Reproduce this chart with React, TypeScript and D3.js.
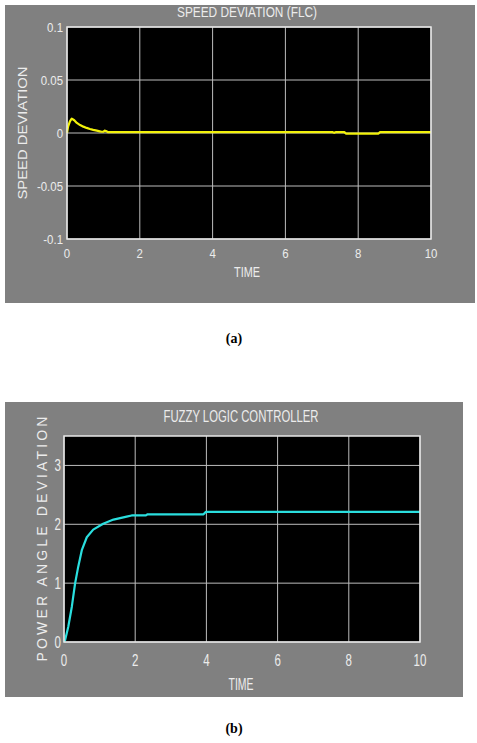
import React from "react";
import * as d3 from "d3";

// ---- Data ----
const xTicks = [0, 2, 4, 6, 8, 10];

const speedTicksY = [-0.1, -0.05, 0, 0.05, 0.1];
const speedTickLabels = ["-0.1", "-0.05", "0", "0.05", "0.1"];
const speedTime = [0, 0.03, 0.08, 0.13, 0.2, 0.27, 0.36, 0.45, 0.54, 0.63, 0.72, 0.82, 0.9, 0.95, 1.0, 1.03, 1.07, 1.12, 1.2, 2, 4, 6, 7.3, 7.34, 7.38, 7.62, 7.66, 8.56, 8.6, 10];
const speedValues = [0, 0.006, 0.011, 0.0135, 0.012, 0.0095, 0.0075, 0.006, 0.0048, 0.0038, 0.003, 0.0022, 0.0016, 0.0012, 0.0012, 0.0022, 0.0018, 0.0009, 0.0008, 0.0008, 0.0008, 0.0008, 0.0008, 0.0002, 0.0008, 0.0008, -0.0005, -0.0005, 0.0008, 0.0008];

const angleTicksY = [0, 1, 2, 3];
const angleTime = [0, 0.03, 0.12, 0.22, 0.31, 0.4, 0.5, 0.64, 0.82, 1.1, 1.39, 1.76, 1.9, 2.2, 2.3, 2.35, 3.92, 3.98, 10];
const angleValues = [0, 0.03, 0.26, 0.6, 0.99, 1.28, 1.56, 1.78, 1.91, 2.01, 2.08, 2.13, 2.15, 2.15, 2.15, 2.17, 2.17, 2.21, 2.21];

const FONT = "'Liberation Sans', Arial, sans-serif";
const PANEL = "#808080";
const GRID = "#bdbdbd";
const BORDER = "#e8e8e8";
const TXT = "#ececec";

type PanelProps = {
  panel: { x: number; y: number; w: number; h: number };
  plot: { x0: number; x1: number; y0: number; y1: number };
  yDomain: [number, number];
  yTicks: number[];
  yTickLabels: string[];
  t: number[];
  v: number[];
  color: string;
  title: string;
  titleY: number;
  titleX: number;
  titleLen: number;
  titleSize: number;
  yLabel: string;
  yLabelX: number;
  yLabelY: number;
  yLabelLen: number;
  yLabelSize: number;
  yLabelAdjust: string;
  xLabelY: number;
  xLabelX: number;
  xLabelLen: number;
  xLabelSize: number;
  tickSize: number;
  tickScaleX: number;
  xTickBaseline: number;
  yTickRight: number;
  yTickShift: number;
};

function Panel(p: PanelProps) {
  const x = d3.scaleLinear().domain([0, 10]).range([p.plot.x0, p.plot.x1]);
  const y = d3.scaleLinear().domain(p.yDomain).range([p.plot.y1, p.plot.y0]);
  const line = d3
    .line<number>()
    .x((_, i) => x(p.t[i]))
    .y((d) => y(d));
  return (
    <g>
      <rect x={p.panel.x} y={p.panel.y} width={p.panel.w} height={p.panel.h} fill={PANEL} />
      <rect x={p.plot.x0} y={p.plot.y0} width={p.plot.x1 - p.plot.x0} height={p.plot.y1 - p.plot.y0} fill="#000" />
      {xTicks.map((d) => (
        <line key={"gx" + d} x1={x(d)} x2={x(d)} y1={p.plot.y0} y2={p.plot.y1} stroke={GRID} strokeWidth={1} />
      ))}
      {p.yTicks.map((d) => (
        <line key={"gy" + d} x1={p.plot.x0} x2={p.plot.x1} y1={y(d)} y2={y(d)} stroke={GRID} strokeWidth={1} />
      ))}
      <path d={line(p.v) || ""} fill="none" stroke={p.color} strokeWidth={2.2} strokeLinejoin="round" />
      <rect x={p.plot.x0} y={p.plot.y0} width={p.plot.x1 - p.plot.x0} height={p.plot.y1 - p.plot.y0} fill="none" stroke={BORDER} strokeWidth={1.5} />
      {xTicks.map((d) => (
        <text
          key={"tx" + d}
          transform={`translate(${x(d)},${p.xTickBaseline}) scale(${p.tickScaleX},1)`}
          textAnchor="middle"
          fontFamily={FONT}
          fontSize={p.tickSize}
          fill={TXT}
        >
          {d}
        </text>
      ))}
      {p.yTicks.map((d, i) => (
        <text
          key={"ty" + d}
          transform={`translate(${p.yTickRight},${y(d) + p.yTickShift}) scale(${p.tickScaleX},1)`}
          textAnchor="end"
          fontFamily={FONT}
          fontSize={p.tickSize}
          fill={TXT}
        >
          {p.yTickLabels[i]}
        </text>
      ))}
      <text
        x={p.titleX}
        y={p.titleY}
        textAnchor="middle"
        fontFamily={FONT}
        fontSize={p.titleSize}
        fill={TXT}
        textLength={p.titleLen}
        lengthAdjust="spacingAndGlyphs"
      >
        {p.title}
      </text>
      <text
        x={p.xLabelX}
        y={p.xLabelY}
        textAnchor="middle"
        fontFamily={FONT}
        fontSize={p.xLabelSize}
        fill={TXT}
        textLength={p.xLabelLen}
        lengthAdjust="spacingAndGlyphs"
      >
        TIME
      </text>
      <text
        transform={`translate(${p.yLabelX},${p.yLabelY}) rotate(-90)`}
        textAnchor="middle"
        fontFamily={FONT}
        fontSize={p.yLabelSize}
        fill={TXT}
        textLength={p.yLabelLen}
        lengthAdjust={p.yLabelAdjust}
      >
        {p.yLabel}
      </text>
    </g>
  );
}

export default function App() {
  return (
    <svg
      width={477}
      height={743}
      style={{ position: "absolute", left: 0, top: 0, background: "#fff" }}
    >
      <Panel
        panel={{ x: 5, y: 5, w: 470, h: 298 }}
        plot={{ x0: 67, x1: 431, y0: 27, y1: 239 }}
        yDomain={[-0.1, 0.1]}
        yTicks={speedTicksY}
        yTickLabels={speedTickLabels}
        t={speedTime}
        v={speedValues}
        color="#f2f20a"
        title="SPEED DEVIATION (FLC)"
        titleX={247}
        titleY={17}
        titleLen={140}
        titleSize={14}
        yLabel="SPEED DEVIATION"
        yLabelX={27}
        yLabelY={133}
        yLabelLen={133}
        yLabelSize={13.5}
        yLabelAdjust="spacingAndGlyphs"
        xLabelX={247}
        xLabelY={277}
        xLabelLen={26}
        xLabelSize={14.5}
        tickSize={13}
        tickScaleX={0.88}
        xTickBaseline={258}
        yTickRight={63}
        yTickShift={4.5}
      />
      <Panel
        panel={{ x: 5, y: 402, w: 458, h: 295 }}
        plot={{ x0: 64, x1: 420, y0: 436, y1: 642 }}
        yDomain={[0, 3.5]}
        yTicks={angleTicksY}
        yTickLabels={angleTicksY.map(String)}
        t={angleTime}
        v={angleValues}
        color="#2adede"
        title="FUZZY LOGIC CONTROLLER"
        titleX={241}
        titleY={422}
        titleLen={155}
        titleSize={16.5}
        yLabel="POWER ANGLE DEVIATION"
        yLabelX={47}
        yLabelY={539}
        yLabelLen={245}
        yLabelSize={14}
        yLabelAdjust="spacing"
        xLabelX={241}
        xLabelY={690}
        xLabelLen={25}
        xLabelSize={17}
        tickSize={16}
        tickScaleX={0.72}
        xTickBaseline={666}
        yTickRight={61}
        yTickShift={6}
      />
      <text x={234} y={343} textAnchor="middle" fontFamily="'Liberation Serif', 'Times New Roman', serif" fontWeight="bold" fontSize={14} fill="#000">
        (a)
      </text>
      <text x={234} y={733} textAnchor="middle" fontFamily="'Liberation Serif', 'Times New Roman', serif" fontWeight="bold" fontSize={14} fill="#000">
        (b)
      </text>
    </svg>
  );
}
